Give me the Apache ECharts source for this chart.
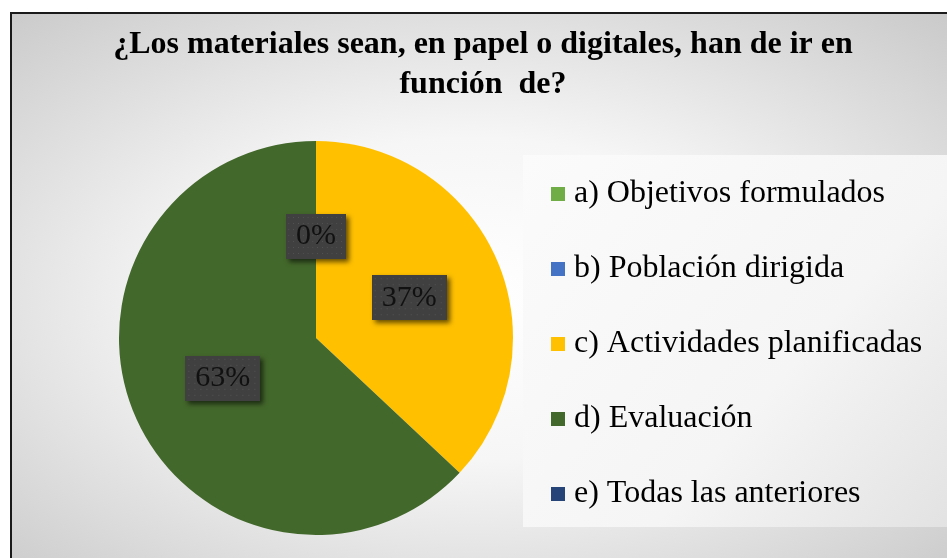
<!DOCTYPE html>
<html>
<head>
<meta charset="utf-8">
<script src="https://cdn.jsdelivr.net/npm/echarts@6/dist/echarts.min.js"></script>
<style>
  html, body { margin: 0; padding: 0; background: #fff; overflow: hidden; }
  #frame {
    position: absolute; left: 10px; top: 12px; width: 960px; height: 570px;
    border-left: 2px solid #1a1a1a; border-top: 2px solid #1a1a1a;
    background: radial-gradient(ellipse farthest-corner at 48% 50%, #ffffff 0%, #f6f6f6 40%, #c8c8c8 100%);
  }
  #chart { position: absolute; left: 0; top: 0; width: 947px; height: 558px; }
</style>
</head>
<body>
<div id="frame"></div>
<div id="chart"></div>
<script>
// datos del gráfico
var titulo = '¿Los materiales sean, en papel o digitales, han de ir en\nfunción  de?'
var categorias = ['a) Objetivos formulados', 'b) Población dirigida', 'c) Actividades planificadas', 'd) Evaluación', 'e) Todas las anteriores']
var valores = [0, 0, 37, 63, 0]
var colores = ['#70ad47', '#4472c4', '#ffc000', '#43682b', '#264478']
// solo se ve una etiqueta de 0%
var mostrarEtiqueta = [false, false, true, true, true]

// fondo punteado de las etiquetas
function patron() {
  var c = document.createElement('canvas')
  c.width = 75
  c.height = 45
  var ctx = c.getContext('2d')
  ctx.fillStyle = '#404040'
  ctx.fillRect(0, 0, c.width, c.height)
  ctx.fillStyle = '#555'
  for (var y = 3; y < c.height; y += 6) {
    for (var x = 3; x < c.width; x += 6) {
      ctx.fillRect(x, y, 1, 1)
    }
  }
  return c
}
var fondo = patron()

var datos = []
for (var i = 0; i < categorias.length; i++) {
  datos.push({
    name: categorias[i],
    value: valores[i],
    itemStyle: { color: colores[i] },
    label: { show: mostrarEtiqueta[i] }
  })
}

var myChart = echarts.init(document.getElementById('chart'))
myChart.setOption({
  animation: false,
  title: {
    text: titulo,
    left: 478,
    top: 20,
    textAlign: 'center',
    textStyle: {
      fontFamily: 'Liberation Serif',
      fontWeight: 'bold',
      fontSize: 32,
      lineHeight: 40,
      color: '#000'
    }
  },
  graphic: [{
    type: 'rect',
    z: -1,
    shape: { x: 523, y: 155, width: 430, height: 372 },
    style: {
      fill: {
        type: 'linear', x: 0, y: 0, x2: 1, y2: 1,
        colorStops: [{ offset: 0, color: '#fbfbfb' }, { offset: 0.6, color: '#f5f5f5' }, { offset: 1, color: '#e2e2e2' }]
      }
    }
  }],
  legend: {
    orient: 'vertical',
    left: 551,
    top: 178,
    padding: 0,
    itemWidth: 14,
    itemHeight: 14,
    itemGap: 43,
    icon: 'rect',
    selectedMode: false,
    data: categorias,
    textStyle: {
      fontFamily: 'Liberation Serif',
      fontSize: 32,
      color: '#000',
      padding: [0, 0, 0, 4]
    }
  },
  series: [{
    type: 'pie',
    center: [316, 338],
    radius: [0, 197],
    startAngle: 90,
    clockwise: true,
    avoidLabelOverlap: false,
    label: {
      position: 'inside',
      formatter: '{d}%',
      fontFamily: 'Liberation Serif',
      fontSize: 30,
      color: '#111',
      backgroundColor: { image: fondo },
      padding: [8, 10, 7, 10],
      shadowColor: 'rgba(0,0,0,0.6)',
      shadowBlur: 5,
      shadowOffsetX: 3,
      shadowOffsetY: 3
    },
    labelLine: { show: false },
    emphasis: { disabled: true },
    data: datos
  }]
})
</script>
</body>
</html>
